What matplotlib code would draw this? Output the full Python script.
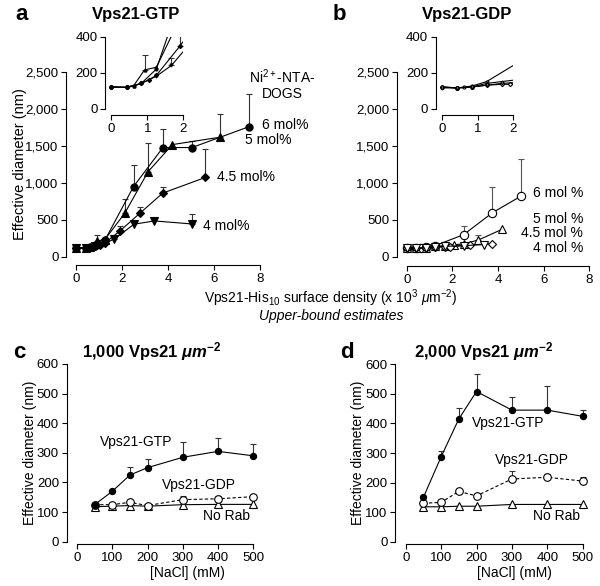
import numpy as np
import matplotlib
matplotlib.use("Agg")
import matplotlib.pyplot as plt

plt.rcParams['font.family'] = ['Liberation Sans', 'DejaVu Sans']
plt.rcParams['mathtext.fontset'] = 'custom'
plt.rcParams['mathtext.rm'] = 'Liberation Sans'
plt.rcParams['mathtext.it'] = 'Liberation Sans:italic'
plt.rcParams['mathtext.bf'] = 'Liberation Sans:bold'
plt.rcParams['mathtext.bfit'] = 'Liberation Sans:italic:bold'

# ---------------- data ----------------
# panel a (Vps21-GTP), x in 10^3 um^-2, y in nm, upper error
a6_x = [0, 0.42, 0.62, 0.83, 1.25, 2.5, 3.78, 5.04, 7.5]
a6_y = [120, 118, 125, 140, 220, 950, 1480, 1480, 1760]
a6_e = [0, 0, 0, 0, 0, 290, 250, 90, 450]
a5_x = [0, 0.42, 0.62, 0.92, 1.25, 2.12, 3.14, 4.19, 6.27]
a5_y = [120, 118, 128, 215, 230, 590, 1155, 1520, 1620]
a5_e = [0, 0, 0, 85, 0, 190, 380, 0, 310]
a45_x = [0, 0.42, 0.83, 1.04, 1.25, 1.91, 2.78, 3.77, 5.62]
a45_y = [120, 118, 140, 160, 185, 349, 590, 862, 1074]
a45_e = [0, 0, 0, 0, 0, 70, 90, 80, 380]
a4_x = [0, 0.42, 0.83, 1.25, 1.67, 2.52, 3.4, 5.04]
a4_y = [120, 118, 140, 180, 240, 440, 485, 444]
a4_e = [0, 0, 0, 0, 40, 0, 0, 135]

# panel b (Vps21-GDP)
b6_x = [0, 0.42, 0.62, 0.83, 1.25, 2.5, 3.75, 5.0]
b6_y = [120, 115, 120, 125, 150, 300, 595, 820]
b6_e = [0, 0, 0, 0, 0, 115, 355, 500]
b5_x = [0, 0.42, 0.83, 1.25, 1.67, 2.08, 2.5, 3.13, 4.17]
b5_y = [120, 115, 120, 140, 150, 160, 175, 225, 370]
b5_e = [0, 0, 0, 0, 0, 0, 0, 70, 0]
b45_x = [0, 0.42, 0.83, 1.25, 1.67, 1.91, 2.78, 3.72]
b45_y = [120, 115, 120, 130, 135, 135, 160, 175]
b45_e = [0, 0, 0, 0, 0, 0, 0, 0]
b4_x = [0, 0.42, 0.83, 1.25, 1.67, 2.52, 3.4]
b4_y = [115, 115, 120, 130, 140, 150, 165]
b4_e = [0, 0, 0, 0, 0, 0, 0]

# panels c, d: NaCl series
nacl = [50, 100, 150, 200, 300, 400, 500]
c_gtp = [125, 170, 225, 250, 285, 305, 290]
c_gtp_e = [0, 0, 27, 28, 53, 45, 40]
c_gdp = [125, 125, 133, 122, 142, 145, 152]
c_gdp_e = [0, 0, 0, 0, 12, 8, 5]
c_norab = [118, 120, 122, 120, 125, 126, 126]
d_gtp = [150, 287, 415, 508, 445, 445, 424]
d_gtp_e = [0, 20, 38, 58, 43, 80, 20]
d_gdp = [130, 133, 170, 155, 212, 218, 205]
d_gdp_e = [0, 0, 0, 0, 28, 12, 13]
d_norab = [118, 118, 120, 120, 126, 126, 126]

W, H = 600, 586
fig = plt.figure(figsize=(W / 100, H / 100), dpi=100)


def rect(x0, x1, ytop, ybot):
    return [x0 / W, 1 - ybot / H, (x1 - x0) / W, (ybot - ytop) / H]


def ftext(x, y, s, **kw):
    fig.text(x / W, 1 - y / H, s, **kw)


def style(ax, xoff, yoff, fs=9.5):
    for s in ['top', 'right']:
        ax.spines[s].set_visible(False)
    ax.spines['left'].set_position(('outward', yoff))
    ax.spines['bottom'].set_position(('outward', xoff))
    for s in ['left', 'bottom']:
        ax.spines[s].set_linewidth(0.8)
    ax.tick_params(width=0.8, length=3.5, labelsize=fs, pad=2)


def series(ax, x, y, e, marker, mfc, ms, ls='-', ecol='#333333', clip=False, lw=0.8):
    x = np.asarray(x, float); y = np.asarray(y, float); e = np.asarray(e, float)
    m = e > 0
    if m.any():
        ax.errorbar(x[m], y[m], yerr=[np.zeros(m.sum()), e[m]], fmt='none',
                    ecolor=ecol, elinewidth=0.8, capsize=2.5, capthick=0.8,
                    zorder=2, clip_on=clip)
    ax.plot(x, y, ls=ls, color='black', lw=lw, marker=marker, ms=ms,
            mfc=mfc, mec='black', mew=0.8, zorder=3, clip_on=clip)


# ---------------- panel a ----------------
axa = fig.add_axes(rect(76, 260, 72.3, 256.7))
style(axa, 6, 7)
series(axa, a6_x, a6_y, a6_e, 'o', 'black', 5.2)
series(axa, a5_x, a5_y, a5_e, '^', 'black', 5.2)
series(axa, a45_x, a45_y, a45_e, 'D', 'black', 3.6)
series(axa, a4_x, a4_y, a4_e, 'v', 'black', 5.2)
axa.set_xlim(0, 8)
axa.set_ylim(0, 2500)
axa.set_xticks([0, 2, 4, 6, 8])
axa.set_yticks([0, 500, 1000, 1500, 2000, 2500])
axa.set_yticklabels(['0', '500', '1,000', '1,500', '2,000', '2,500'])
axa.set_ylabel('Effective diameter (nm)', fontsize=10.5, labelpad=-1)

insa = fig.add_axes(rect(109.3, 183.3, 36.7, 110))
style(insa, 3.5, 3, fs=9.5)
for xs, ys, es, mk in [(a6_x, a6_y, a6_e, 'o'), (a5_x, a5_y, a5_e, '^'),
                       (a45_x, a45_y, a45_e, 'D'), (a4_x, a4_y, a4_e, 'v')]:
    series(insa, xs, ys, es, mk, 'black', 2.2, clip=True)
insa.set_xlim(-0.06, 2.0)
insa.set_ylim(-8, 400)
insa.spines['bottom'].set_bounds(0, 2)
insa.spines['left'].set_bounds(0, 400)
insa.set_xticks([0, 1, 2])
insa.set_yticks([0, 200, 400])
insa.patch.set_alpha(0)

ftext(15, 15, 'a', fontsize=16, fontweight='bold', ha='left', va='center')
ftext(136, 15, 'Vps21-GTP', fontsize=12, fontweight='bold', ha='center', va='center')
ftext(282, 84, 'Ni$^{2+}$-NTA-\nDOGS', fontsize=10, ha='center', va='center',
      linespacing=1.05)
ftext(262, 125, '6 mol%', fontsize=10, ha='left', va='center')
ftext(245, 140, '5 mol%', fontsize=10, ha='left', va='center')
ftext(217, 177, '4.5 mol%', fontsize=10, ha='left', va='center')
ftext(203, 226, '4 mol%', fontsize=10, ha='left', va='center')

# ---------------- panel b ----------------
axb = fig.add_axes(rect(406.7, 589.3, 72.3, 256.7))
style(axb, 7, 7)
series(axb, b6_x, b6_y, b6_e, 'o', 'white', 6, ecol='#555555')
series(axb, b5_x, b5_y, b5_e, '^', 'white', 5.5, ecol='#555555')
series(axb, b45_x, b45_y, b45_e, 'D', 'white', 4.2, ecol='#555555')
series(axb, b4_x, b4_y, b4_e, 'v', 'white', 5.2, ecol='#555555')
axb.set_xlim(0, 8)
axb.set_ylim(0, 2500)
axb.set_xticks([0, 2, 4, 6, 8])
axb.set_yticks([0, 500, 1000, 1500, 2000, 2500])
axb.set_yticklabels(['0', '500', '1,000', '1,500', '2,000', '2,500'])

insb = fig.add_axes(rect(440, 513.3, 36.7, 110))
style(insb, 3.5, 3, fs=9.5)
for xs, ys, es, mk in [(b6_x, b6_y, b6_e, 'o'), (b5_x, b5_y, b5_e, '^'),
                       (b45_x, b45_y, b45_e, 'D'), (b4_x, b4_y, b4_e, 'v')]:
    series(insb, xs, ys, es, mk, 'white', 2.2, clip=True)
insb.set_xlim(-0.06, 2.0)
insb.set_ylim(-8, 400)
insb.spines['bottom'].set_bounds(0, 2)
insb.spines['left'].set_bounds(0, 400)
insb.set_xticks([0, 1, 2])
insb.set_yticks([0, 200, 400])
insb.patch.set_alpha(0)

ftext(333, 15, 'b', fontsize=16, fontweight='bold', ha='left', va='center')
ftext(467, 15, 'Vps21-GDP', fontsize=12, fontweight='bold', ha='center', va='center')
ftext(583, 193, '6 mol %', fontsize=10, ha='right', va='center')
ftext(583, 219, '5 mol %', fontsize=10, ha='right', va='center')
ftext(583, 233, '4.5 mol %', fontsize=10, ha='right', va='center')
ftext(583, 248, '4 mol %', fontsize=10, ha='right', va='center')

ftext(331, 298, r'Vps21-His$_{10}$ surface density (x 10$^{3}$ $\mu$m$^{-2}$)',
      fontsize=10, ha='center', va='center')
ftext(331, 316, 'Upper-bound estimates', fontsize=10, style='italic',
      ha='center', va='center')

# ---------------- panels c, d ----------------
def nacl_panel(rect_px, gtp, gtp_e, gdp, gdp_e, norab):
    ax = fig.add_axes(rect(*rect_px))
    style(ax, 2, 7.5)
    series(ax, nacl, norab, np.zeros(len(nacl)), '^', 'white', 5.5)
    series(ax, nacl, gdp, gdp_e, 'o', 'white', 5.5, ls=(0, (3, 2)))
    series(ax, nacl, gtp, gtp_e, 'o', 'black', 4.5)
    ax.set_xlim(0, 500)
    ax.set_ylim(0, 600)
    ax.set_xticks([0, 100, 200, 300, 400, 500])
    ax.set_yticks([0, 100, 200, 300, 400, 500, 600])
    ax.set_ylabel('Effective diameter (nm)', fontsize=10, labelpad=0)
    return ax

axc = nacl_panel((77, 253.3, 364, 541.7), c_gtp, c_gtp_e, c_gdp, c_gdp_e, c_norab)
axd = nacl_panel((405.7, 582.7, 364.3, 541.7), d_gtp, d_gtp_e, d_gdp, d_gdp_e, d_norab)

ftext(13, 352, 'c', fontsize=16, fontweight='bold', ha='left', va='center')
ftext(152, 352, r'1,000 Vps21 $\mathbfit{\mu m}^{\mathbf{-2}}$', fontsize=12,
      fontweight='bold', ha='center', va='center')
ftext(187, 573, '[NaCl] (mM)', fontsize=10, ha='center', va='center')
ftext(100, 442, 'Vps21-GTP', fontsize=10, ha='left', va='center')
ftext(162, 485, 'Vps21-GDP', fontsize=10, ha='left', va='center')
ftext(203, 516, 'No Rab', fontsize=10, ha='left', va='center')

ftext(340, 352, 'd', fontsize=16, fontweight='bold', ha='left', va='center')
ftext(484, 352, r'2,000 Vps21 $\mathbfit{\mu m}^{\mathbf{-2}}$', fontsize=12,
      fontweight='bold', ha='center', va='center')
ftext(514, 573, '[NaCl] (mM)', fontsize=10, ha='center', va='center')
ftext(472, 423, 'Vps21-GTP', fontsize=10, ha='left', va='center')
ftext(495, 460, 'Vps21-GDP', fontsize=10, ha='left', va='center')
ftext(533, 516, 'No Rab', fontsize=10, ha='left', va='center')

fig.savefig('out.png', dpi=100)
